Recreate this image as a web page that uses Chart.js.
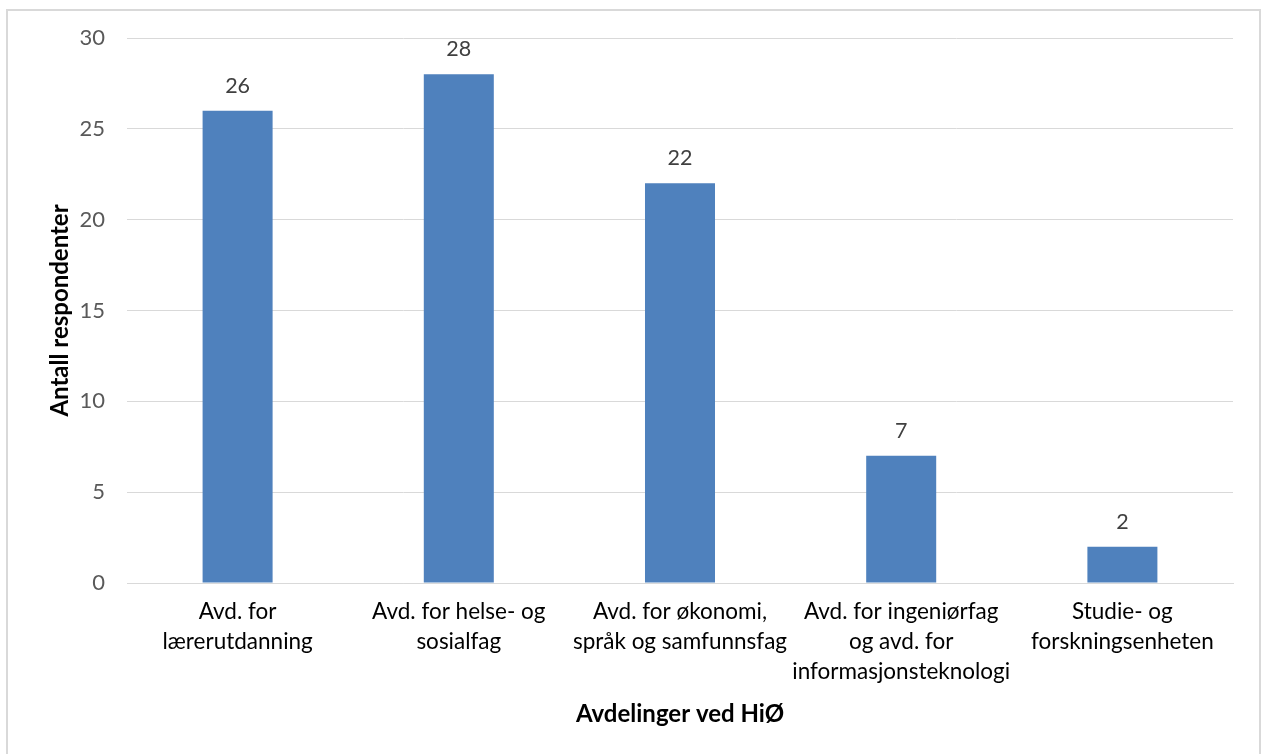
<!DOCTYPE html>
<html>
<head>
<meta charset="utf-8">
<script src="https://cdn.jsdelivr.net/npm/chart.js@4.4.1/dist/chart.umd.min.js"></script>
<style>
  html, body { margin:0; padding:0; background:#fff; overflow:hidden; }
  #wrap { position:relative; width:1264px; height:754px; }
  #frame { position:absolute; left:6px; top:9px; width:1251px; height:800px; border:2px solid #d9d9d9; box-sizing:content-box; }
  canvas { position:absolute; left:0; top:0; }
</style>
</head>
<body>
<div id="wrap">
  <div id="frame"></div>
  <canvas id="c" width="1264" height="754"></canvas>
</div>
<script>
const categories = [
  ["Avd. for", "lærerutdanning"],
  ["Avd. for helse- og", "sosialfag"],
  ["Avd. for økonomi,", "språk og samfunnsfag"],
  ["Avd. for ingeniørfag", "og avd. for", "informasjonsteknologi"],
  ["Studie- og", "forskningsenheten"]
];
const respondents = [26, 28, 22, 7, 2];
const yTicks = [0, 5, 10, 15, 20, 25, 30];
const xTitle = "Avdelinger ved HiØ";
const yTitle = "Antall respondenter";

const FONT = "Lato, 'Open Sans', sans-serif";

const valueLabels = {
  id: 'valueLabels',
  afterDatasetsDraw(chart) {
    const ctx = chart.ctx;
    const meta = chart.getDatasetMeta(0);
    ctx.save();
    ctx.font = "21.5px " + FONT;
    ctx.fillStyle = "#404040";
    ctx.textAlign = "center";
    ctx.textBaseline = "middle";
    meta.data.forEach((bar, i) => {
      ctx.fillText(String(respondents[i]), bar.x, bar.y - 25);
    });
    ctx.restore();
  }
};

new Chart(document.getElementById('c'), {
  type: 'bar',
  data: {
    labels: categories,
    datasets: [{
      data: respondents,
      backgroundColor: '#4F81BD',
      borderWidth: 0,
      categoryPercentage: 1,
      barPercentage: 0.3165
    }]
  },
  options: {
    responsive: false,
    animation: false,
    layout: { padding: { top: 38, right: 31, left: 0, bottom: 0 } },
    plugins: { legend: { display: false }, tooltip: { enabled: false } },
    scales: {
      x: {
        grid: { display: false, drawTicks: false },
        border: { display: true, color: '#d9d9d9', width: 1 },
        ticks: {
          color: '#000000',
          font: { family: FONT, size: 22.5, lineHeight: 1.333 },
          padding: 14,
          maxRotation: 0,
          autoSkip: false
        },
        title: {
          display: true,
          text: xTitle,
          color: '#000000',
          font: { family: FONT, size: 24, weight: 'bold', lineHeight: 1.2 },
          padding: { top: 0, bottom: 25.6 }
        },
        afterFit(scale) { scale.height = 171; }
      },
      y: {
        min: 0,
        max: 30,
        afterBuildTicks(scale) { scale.ticks = yTicks.map(v => ({ value: v })); },
        grid: { color: '#d9d9d9', lineWidth: 1, drawTicks: false },
        border: { display: false },
        ticks: {
          color: '#595959',
          font: { family: FONT, size: 22 },
          padding: 22
        },
        title: {
          display: true,
          text: yTitle,
          color: '#000000',
          font: { family: FONT, size: 24, weight: 'bold', lineHeight: 1.2 },
          padding: { top: 45.6, bottom: 0 }
        },
        afterFit(scale) { scale.width = 127; }
      }
    }
  },
  plugins: [valueLabels]
});
</script>
</body>
</html>
